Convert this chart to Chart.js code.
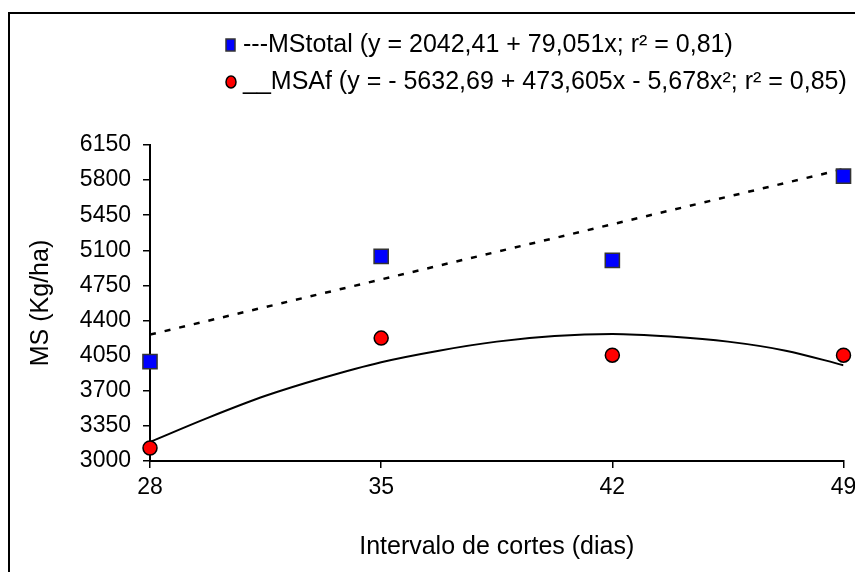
<!DOCTYPE html>
<html>
<head>
<meta charset="utf-8">
<script src="https://cdn.jsdelivr.net/npm/chart.js@4/dist/chart.umd.min.js"></script>
<style>
   html, body { margin: 0; padding: 0; background: #fff; }
   #box { width: 855px; height: 572px; }
</style>
</head>
<body>
<div id="box"><canvas id="msChart" width="855" height="572"></canvas></div>
<script>
// intervalo de cortes (dias)
const diasCorte = [28, 35, 42, 49];
const msTotal = [3990, 5040, 5000, 5840];
const msAf = [3130, 4225, 4055, 4055];

// linhas de tendencia
const diasTendLinear = [28, 49];
const msTotalTend = [4260, 5910];
const diasTendQuad = [28, 29.75, 31.5, 33.25, 35, 36.75, 38.5, 40.25, 42, 43.75, 45.5, 47.25, 49];
const msAfTend = [3190, 3430, 3650, 3830, 3985, 4100, 4190, 4245, 4265, 4240, 4190, 4100, 3955];

const yTicks = [3000, 3350, 3700, 4050, 4400, 4750, 5100, 5450, 5800, 6150];
const xTicks = [28, 35, 42, 49];

const legendLabels = [
   '---MStotal (y = 2042,41 + 79,051x; r² = 0,81)',
   '__MSAf (y = - 5632,69 + 473,605x - 5,678x²; r² = 0,85)'
];

const fonte = "'Liberation Sans', Arial, sans-serif";
const toXY = (xs, ys) => xs.map((x, i) => ({ x: x, y: ys[i] }));

// legenda e moldura desenhadas a mao
const moldura = {
   id: 'moldura',
   afterDraw(chart) {
      const c = chart.ctx;
      c.save();
      c.strokeStyle = '#000';
      c.lineWidth = 2;
      c.beginPath();
      c.moveTo(9, 600);
      c.lineTo(9, 13);
      c.lineTo(900, 13);
      c.stroke();

      c.font = '25px ' + fonte;
      c.textBaseline = 'middle';
      c.textAlign = 'left';
      const linhas = [45, 82];
      // quadrado azul
      c.fillStyle = '#0000ff';
      c.strokeStyle = '#333';
      c.lineWidth = 1.5;
      c.fillRect(226, linhas[0] - 6, 9, 12);
      c.strokeRect(226, linhas[0] - 6, 9, 12);
      // circulo vermelho
      c.fillStyle = '#ff0000';
      c.strokeStyle = '#000';
      c.beginPath();
      c.ellipse(231, linhas[1], 5, 6, 0, 0, Math.PI * 2);
      c.fill();
      c.stroke();
      c.fillStyle = '#000';
      c.fillText(legendLabels[0], 243, linhas[0]);
      c.fillText(legendLabels[1], 243, linhas[1]);
      c.restore();
   }
};

const ctx = document.getElementById('msChart').getContext('2d');

new Chart(ctx, {
   type: 'scatter',
   data: {
      datasets: [
         {
            label: 'MStotal',
            data: toXY(diasCorte, msTotal),
            pointStyle: 'rect',
            pointRadius: 10,
            pointHoverRadius: 10,
            backgroundColor: '#0000ff',
            borderColor: '#333',
            borderWidth: 1.5,
            clip: false,
            order: 0
         },
         {
            label: 'MSAf',
            data: toXY(diasCorte, msAf),
            pointStyle: 'circle',
            pointRadius: 7,
            pointHoverRadius: 7,
            backgroundColor: '#ff0000',
            borderColor: '#000',
            borderWidth: 1.5,
            clip: false,
            order: 0
         },
         {
            label: 'tendencia MStotal',
            data: toXY(diasTendLinear, msTotalTend),
            showLine: true,
            pointRadius: 0,
            borderColor: '#000',
            borderWidth: 2.5,
            borderDash: [6, 9],
            order: 1
         },
         {
            label: 'tendencia MSAf',
            data: toXY(diasTendQuad, msAfTend),
            showLine: true,
            pointRadius: 0,
            borderColor: '#000',
            borderWidth: 2,
            tension: 0.4,
            cubicInterpolationMode: 'monotone',
            order: 1
         }
      ]
   },
   options: {
      responsive: false,
      animation: false,
      events: [],
      layout: {
         padding: { top: 145, left: 10, right: 9, bottom: 0 }
      },
      plugins: {
         legend: { display: false },
         tooltip: { enabled: false }
      },
      scales: {
         x: {
            type: 'linear',
            min: 28,
            max: 49,
            afterBuildTicks: (scale) => { scale.ticks = xTicks.map(v => ({ value: v })); },
            afterFit: (scale) => {
               scale.height = 111;
               scale.paddingLeft = 0;
               scale.paddingRight = 0;
            },
            grid: {
               drawOnChartArea: false,
               drawTicks: true,
               tickLength: 7,
               color: '#000',
               lineWidth: 1.5
            },
            border: { color: '#000', width: 2 },
            ticks: {
               color: '#000',
               padding: 6,
               maxRotation: 0,
               callback: (v) => String(v),
               font: { family: fonte, size: 23 }
            },
            title: {
               display: true,
               text: 'Intervalo de cortes (dias)',
               color: '#000',
               padding: { top: 0, bottom: 10 },
               font: { family: fonte, size: 25 }
            }
         },
         y: {
            min: 3000,
            max: 6150,
            afterBuildTicks: (scale) => { scale.ticks = yTicks.map(v => ({ value: v })); },
            afterFit: (scale) => {
               scale.width = 140;
               scale.paddingTop = 0;
               scale.paddingBottom = 0;
            },
            grid: {
               drawOnChartArea: false,
               drawTicks: true,
               tickLength: 7,
               color: '#000',
               lineWidth: 1.5
            },
            border: { color: '#000', width: 2 },
            ticks: {
               color: '#000',
               padding: 12,
               callback: (v) => String(v),
               font: { family: fonte, size: 23 }
            },
            title: {
               display: true,
               text: 'MS (Kg/ha)',
               color: '#000',
               padding: { top: 16, bottom: 0 },
               font: { family: fonte, size: 25 }
            }
         }
      }
   },
   plugins: [moldura]
});
</script>
</body>
</html>
